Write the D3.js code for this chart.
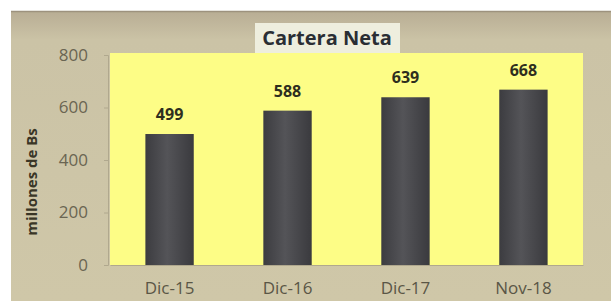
<!DOCTYPE html>
<html>
<head>
<meta charset="utf-8">
<script src="https://cdn.jsdelivr.net/npm/d3@7"></script>
<style>
  body { margin: 0; background: #fff; }
  text { font-family: "Open Sans", "DejaVu Sans", sans-serif; }
</style>
</head>
<body>
<div id="chart"></div>
<script>
var categories = ["Dic-15", "Dic-16", "Dic-17", "Nov-18"];
var values = [499, 588, 639, 668];
var yTicks = [0, 200, 400, 600, 800];

var W = 611, H = 301;
var svg = d3.select("#chart").append("svg")
    .attr("width", W)
    .attr("height", H);

var defs = svg.append("defs");
var barGrad = defs.append("linearGradient").attr("id", "barGrad")
    .attr("x1", "0%").attr("x2", "100%").attr("y1", "0%").attr("y2", "0%");
barGrad.append("stop").attr("offset", "0%").attr("stop-color", "#3c3c40");
barGrad.append("stop").attr("offset", "45%").attr("stop-color", "#545458");
barGrad.append("stop").attr("offset", "100%").attr("stop-color", "#3a3a3e");

var frameGrad = defs.append("linearGradient").attr("id", "frameGrad")
    .attr("x1", "0%").attr("x2", "0%").attr("y1", "0%").attr("y2", "100%");
frameGrad.append("stop").attr("offset", "0%").attr("stop-color", "#b8ad94");
frameGrad.append("stop").attr("offset", "10%").attr("stop-color", "#cbc3a6");
frameGrad.append("stop").attr("offset", "100%").attr("stop-color", "#cfc7a8");

// outer frame
svg.append("rect")
    .attr("x", 11).attr("y", 11)
    .attr("width", W - 11).attr("height", H - 11)
    .style("fill", "url(#frameGrad)");
svg.append("line")
    .attr("x1", 11).attr("x2", W).attr("y1", 11.5).attr("y2", 11.5)
    .style("stroke", "#9d927e").style("stroke-width", 1.5);

var x = d3.scaleBand()
    .domain(categories)
    .range([110, 583])
    .paddingInner(0.59)
    .paddingOuter(0.3);

var y = d3.scaleLinear()
    .domain([0, 800])
    .range([265, 55]);

// plot area
svg.append("rect")
    .attr("x", 110).attr("y", y(800) - 2)
    .attr("width", 473).attr("height", y(0) - y(800) + 2)
    .style("fill", "#fdfd86");

// y axis
var yAxis = svg.append("g")
    .attr("transform", "translate(108,0)")
    .call(d3.axisLeft(y).tickValues(yTicks).tickSize(4).tickPadding(16));
yAxis.select(".domain").style("stroke", "#b0a88e");
yAxis.selectAll(".tick line").style("stroke", "#b0a88e");
yAxis.selectAll("text")
    .style("font-size", "17px")
    .style("fill", "#6a6552");

// x axis
var xAxis = svg.append("g")
    .attr("transform", "translate(0," + y(0) + ")")
    .call(d3.axisBottom(x).tickSize(0).tickPadding(17));
xAxis.select(".domain").style("stroke", "#b0a88e");
xAxis.selectAll("text")
    .style("font-size", "17px")
    .style("fill", "#5a5646");

// bars
svg.selectAll(".bar")
    .data(values)
    .enter().append("rect")
      .attr("class", "bar")
      .attr("x", function(d, i) { return x(categories[i]); })
      .attr("y", function(d) { return y(d); })
      .attr("width", x.bandwidth())
      .attr("height", function(d) { return y(0) - y(d); })
      .style("fill", "url(#barGrad)");

// value labels
svg.selectAll(".val")
    .data(values)
    .enter().append("text")
      .attr("class", "val")
      .attr("x", function(d, i) { return x(categories[i]) + x.bandwidth() / 2; })
      .attr("y", function(d) { return y(d) - 14; })
      .style("text-anchor", "middle")
      .style("font-size", "16px")
      .style("font-weight", "bold")
      .style("fill", "#2e2e1e")
      .text(function(d) { return d; });

// title
svg.append("rect")
    .attr("x", 255).attr("y", 23)
    .attr("width", 145).attr("height", 30)
    .style("fill", "#eeeede");
svg.append("text")
    .attr("x", 327).attr("y", 45)
    .style("text-anchor", "middle")
    .style("font-size", "20px")
    .style("font-weight", "bold")
    .style("fill", "#2a2e34")
    .text("Cartera Neta");

// y title
svg.append("text")
    .attr("transform", "translate(37,182) rotate(-90)")
    .style("text-anchor", "middle")
    .style("font-size", "15px")
    .style("font-weight", "bold")
    .style("fill", "#3a3626")
    .text("millones de Bs");
</script>
</body>
</html>
